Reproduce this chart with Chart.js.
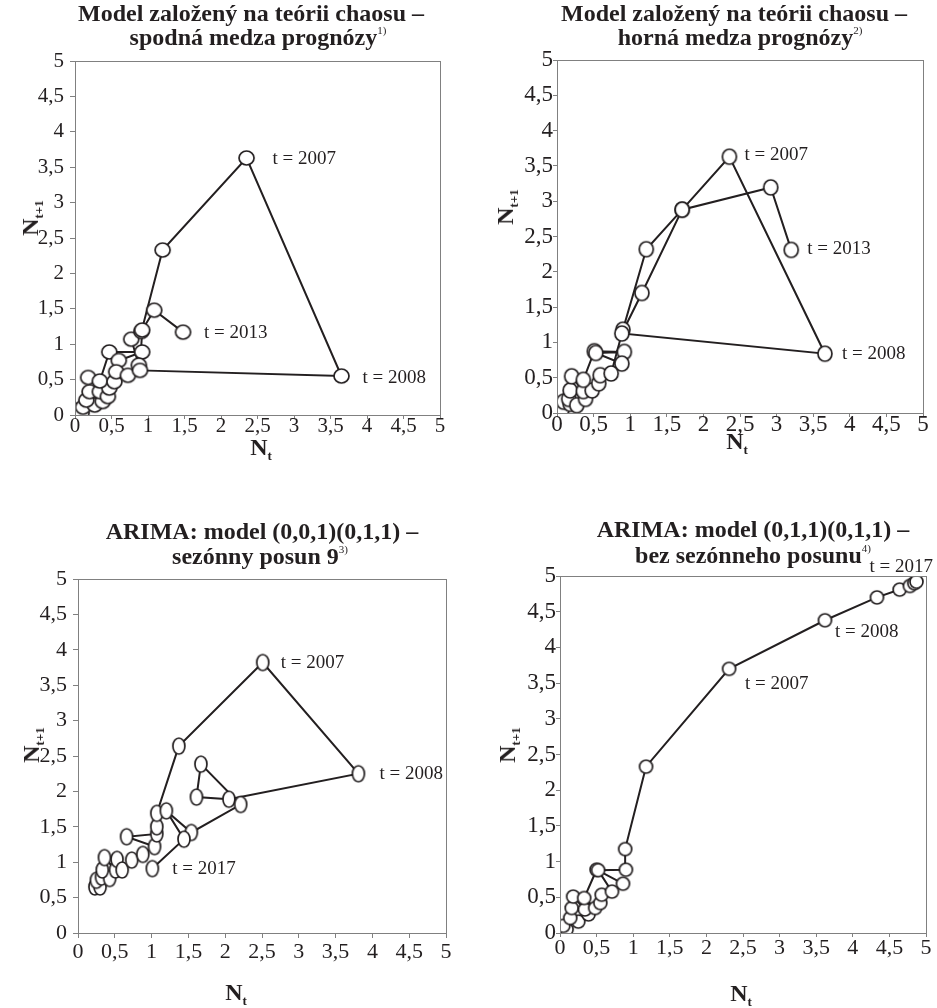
<!DOCTYPE html>
<html>
<head>
<meta charset="utf-8">
<script src="https://cdn.jsdelivr.net/npm/chart.js@4.4.1/dist/chart.umd.min.js"></script>
<style>
  html, body { margin: 0; padding: 0; background: #fff; }
  #wrap { position: relative; width: 937px; height: 1008px; overflow: hidden; background: #fff; }
  canvas { position: absolute; left: 0; top: 0; }
  .t { position: absolute; white-space: nowrap; color: #231f20; font-family: 'Liberation Serif', 'Times New Roman', serif; font-weight: bold; line-height: 1; transform: translateX(-50%); }
  .t .sup { position: relative; top: -11px; font-size: 11px; font-weight: normal; }
  .ax { position: absolute; white-space: nowrap; color: #231f20; font-family: 'Liberation Serif', 'Times New Roman', serif; font-weight: bold; font-size: 24px; line-height: 1; }
  .ax .sub { position: relative; top: 5px; font-size: 13px; }
  .rot { transform: translate(-50%, -50%) rotate(-90deg); }
  .hor { transform: translate(-50%, -50%); }
</style>
</head>
<body>
<div id="wrap">
  <canvas id="c1" width="937" height="1008"></canvas>
  <canvas id="c2" width="937" height="1008"></canvas>
  <canvas id="c3" width="937" height="1008"></canvas>
  <canvas id="c4" width="937" height="1008"></canvas>

  <div class="t" style="left:251px; top:1px; font-size:24px;">Model založený na teórii chaosu –</div>
  <div class="t" style="left:258px; top:25px; font-size:24px;">spodná medza prognózy<span class="sup">1)</span></div>
  <div class="t" style="left:734px; top:1px; font-size:24px;">Model založený na teórii chaosu –</div>
  <div class="t" style="left:740px; top:25px; font-size:24px;">horná medza prognózy<span class="sup">2)</span></div>
  <div class="t" style="left:262px; top:519px; font-size:24px;">ARIMA: model (0,0,1)(0,1,1) –</div>
  <div class="t" style="left:260px; top:544px; font-size:24px;">sezónny posun 9<span class="sup">3)</span></div>
  <div class="t" style="left:753px; top:517px; font-size:24px;">ARIMA: model (0,1,1)(0,1,1) –</div>
  <div class="t" style="left:753px; top:543px; font-size:24px;">bez sezónneho posunu<span class="sup">4)</span></div>

  <div class="ax hor" style="left:261px; top:447px;">N<span class="sub">t</span></div>
  <div class="ax hor" style="left:737px; top:441px;">N<span class="sub">t</span></div>
  <div class="ax hor" style="left:236px; top:992px;">N<span class="sub">t</span></div>
  <div class="ax hor" style="left:741px; top:993px;">N<span class="sub">t</span></div>

  <div class="ax rot" style="left:30px; top:218px;">N<span class="sub">t+1</span></div>
  <div class="ax rot" style="left:505px; top:207px;">N<span class="sub">t+1</span></div>
  <div class="ax rot" style="left:31px; top:745px;">N<span class="sub">t+1</span></div>
  <div class="ax rot" style="left:507px; top:745px;">N<span class="sub">t+1</span></div>
</div>
<script>
// ---------- data ----------
const TICK_LABELS = ['0', '0,5', '1', '1,5', '2', '2,5', '3', '3,5', '4', '4,5', '5'];

// Panel 1: chaos model, lower bound
const P1_X = [0.04, 0.09, 0.11, 0.27, 0.155, 0.20, 0.38, 0.34, 0.45, 0.47, 0.18, 0.34, 0.47, 0.92, 0.60, 0.54, 0.565, 0.725, 0.875, 0.77, 0.91, 1.20, 2.35, 3.65, 0.89, 0.92, 1.085, 1.48];
const P1_Y = [0.07, 0.03, 0.11, 0.14, 0.21, 0.33, 0.19, 0.33, 0.26, 0.38, 0.53, 0.48, 0.89, 0.89, 0.77, 0.47, 0.61, 0.56, 0.705, 1.07, 1.18, 2.33, 3.63, 0.55, 0.63, 1.20, 1.48, 1.17];
const P1_LABELS = ['t = 2007', 't = 2008', 't = 2013'];
const P1_LABEL_IDX = [22, 23, 27];

// Panel 2: chaos model, upper bound
const P2_X = [0.07, 0.09, 0.18, 0.16, 0.27, 0.18, 0.39, 0.36, 0.20, 0.48, 0.36, 0.51, 0.92, 0.53, 0.886, 0.57, 0.59, 0.74, 0.90, 1.22, 1.71, 2.355, 3.66, 0.886, 1.16, 1.71, 2.92, 3.20];
const P2_Y = [0.05, 0.16, 0.13, 0.20, 0.11, 0.32, 0.20, 0.31, 0.52, 0.32, 0.47, 0.875, 0.865, 0.85, 0.70, 0.42, 0.535, 0.56, 1.18, 2.32, 2.88, 3.63, 0.84, 1.126, 1.70, 2.88, 3.195, 2.31];
const P2_LABELS = ['t = 2007', 't = 2008', 't = 2013'];
const P2_LABEL_IDX = [21, 22, 27];

// Panel 3: ARIMA (0,0,1)(0,1,1), seasonal shift 9
const P3_X = [0.23, 0.30, 0.25, 0.32, 0.43, 0.33, 0.36, 0.51, 0.53, 0.60, 0.73, 0.88, 1.04, 0.66, 1.07, 1.07, 1.07, 1.37, 2.51, 3.81, 2.05, 1.61, 1.67, 2.21, 1.54, 1.20, 1.44, 1.01];
const P3_Y = [0.65, 0.65, 0.745, 0.79, 0.77, 0.89, 1.065, 0.89, 1.04, 0.89, 1.03, 1.11, 1.22, 1.36, 1.40, 1.50, 1.69, 2.64, 3.82, 2.25, 1.89, 1.92, 2.385, 1.815, 1.42, 1.725, 1.325, 0.91];
const P3_LABELS = ['t = 2007', 't = 2008', 't = 2017'];
const P3_LABEL_IDX = [18, 19, 27];

// Panel 4: ARIMA (0,1,1)(0,1,1), no seasonal shift
const P4_X = [0.09, 0.045, 0.25, 0.14, 0.39, 0.16, 0.34, 0.18, 0.48, 0.33, 0.50, 0.86, 0.55, 0.57, 0.71, 0.52, 0.90, 0.89, 1.175, 2.31, 3.62, 4.33, 4.64, 4.78, 4.84, 4.87];
const P4_Y = [0.05, 0.10, 0.16, 0.21, 0.26, 0.35, 0.33, 0.51, 0.35, 0.49, 0.886, 0.69, 0.42, 0.536, 0.58, 0.88, 0.886, 1.175, 2.33, 3.70, 4.38, 4.70, 4.81, 4.86, 4.90, 4.92];
const P4_LABELS = ['t = 2007', 't = 2008', 't = 2017'];
const P4_LABEL_IDX = [19, 20, 25];

// ---------- styling / layout ----------
const INK = '#231f20';
const AXIS = '#808080';
const FONT = "'Liberation Serif', 'Times New Roman', serif";

function ellipseMarker(w, h) {
  const c = document.createElement('canvas');
  c.width = w + 4; c.height = h + 4;
  const g = c.getContext('2d');
  g.beginPath();
  g.ellipse(c.width / 2, c.height / 2, w / 2, h / 2, 0, 0, Math.PI * 2);
  g.fillStyle = '#fff';
  g.fill();
  g.lineWidth = 1.7;
  g.strokeStyle = INK;
  g.stroke();
  return c;
}

const frame = {
  id: 'frame',
  afterDraw(chart) {
    const a = chart.chartArea, ctx = chart.ctx;
    ctx.save();
    ctx.strokeStyle = AXIS;
    ctx.lineWidth = 1;
    ctx.strokeRect(Math.round(a.left) + 0.5, Math.round(a.top) + 0.5, Math.round(a.right - a.left), Math.round(a.bottom - a.top));
    ctx.restore();
  }
};

const pointLabels = {
  id: 'pointLabels',
  afterDatasetsDraw(chart, args, opts) {
    const meta = chart.getDatasetMeta(0);
    const ctx = chart.ctx;
    ctx.save();
    ctx.font = '19px ' + FONT;
    ctx.fillStyle = INK;
    ctx.textAlign = 'left';
    ctx.textBaseline = 'middle';
    opts.texts.forEach((txt, k) => {
      const el = meta.data[opts.idx[k]];
      const off = opts.offsets[k];
      ctx.fillText(txt, el.x + off[0], el.y + off[1]);
    });
    ctx.restore();
  }
};

function makeChart(id, xs, ys, labels, labelIdx, offsets, area, marker, st) {
  const W = 937, H = 1008, YW = 60, XH = 40;
  const pts = xs.map((x, i) => ({ x: x, y: ys[i] }));
  const border = { display: true, color: AXIS, width: 1 };
  const tickBase = {
    stepSize: 0.5, autoSkip: false, maxRotation: 0, minRotation: 0, color: INK,
    callback: (v) => TICK_LABELS[Math.round(v * 2)]
  };
  return new Chart(document.getElementById(id), {
    type: 'scatter',
    data: { datasets: [{
      data: pts, showLine: true, borderColor: INK, borderWidth: 2, tension: 0,
      pointStyle: marker, pointRadius: 8, pointHoverRadius: 8,
      pointBackgroundColor: '#fff', pointBorderColor: INK
    }] },
    options: {
      responsive: false, animation: false, events: [],
      layout: { padding: { left: area[0] - YW, right: W - area[1], top: area[2], bottom: H - area[3] - XH } },
      plugins: {
        legend: { display: false }, tooltip: { enabled: false }, title: { display: false },
        pointLabels: { texts: labels, idx: labelIdx, offsets: offsets }
      },
      scales: {
        x: { type: 'linear', min: 0, max: 5, position: 'bottom', border: border,
             grid: { drawOnChartArea: false, drawTicks: true, tickLength: st.xTick, color: AXIS, tickColor: AXIS },
             afterFit: (s) => { s.height = XH; },
             ticks: Object.assign({}, tickBase, { padding: st.xPad, font: { family: FONT, size: st.xFont } }) },
        y: { type: 'linear', min: 0, max: 5, position: 'left', border: border,
             grid: { drawOnChartArea: false, drawTicks: true, tickLength: st.yTick, color: AXIS, tickColor: AXIS },
             afterFit: (s) => { s.width = YW; },
             ticks: Object.assign({}, tickBase, { padding: st.yPad, font: { family: FONT, size: st.yFont } }) }
      }
    },
    plugins: [frame, pointLabels]
  });
}

makeChart('c1', P1_X, P1_Y, P1_LABELS, P1_LABEL_IDX, [[26, 1], [21, 2], [21, 1]], [75, 440, 61, 415],
  ellipseMarker(15, 14), { xTick: 4, xPad: -5, xFont: 21, yTick: 5, yPad: 6, yFont: 21 });
makeChart('c2', P2_X, P2_Y, P2_LABELS, P2_LABEL_IDX, [[15, -2], [17, 0], [16, -1]], [557, 923, 60, 413],
  ellipseMarker(14, 15), { xTick: 4, xPad: -6, xFont: 23, yTick: 4, yPad: 0, yFont: 23 });
makeChart('c3', P3_X, P3_Y, P3_LABELS, P3_LABEL_IDX, [[18, 0], [21, 0], [20, 0]], [78, 446, 579, 933],
  ellipseMarker(12, 16), { xTick: 5, xPad: 1, xFont: 22, yTick: 5, yPad: 6, yFont: 22 });
makeChart('c4', P4_X, P4_Y, P4_LABELS, P4_LABEL_IDX, [[16, 15], [10, 12], [-47, -15]], [560, 926, 576, 933],
  ellipseMarker(13, 13), { xTick: 4, xPad: -2, xFont: 22, yTick: 4, yPad: 0, yFont: 23 });
</script>
</body>
</html>
